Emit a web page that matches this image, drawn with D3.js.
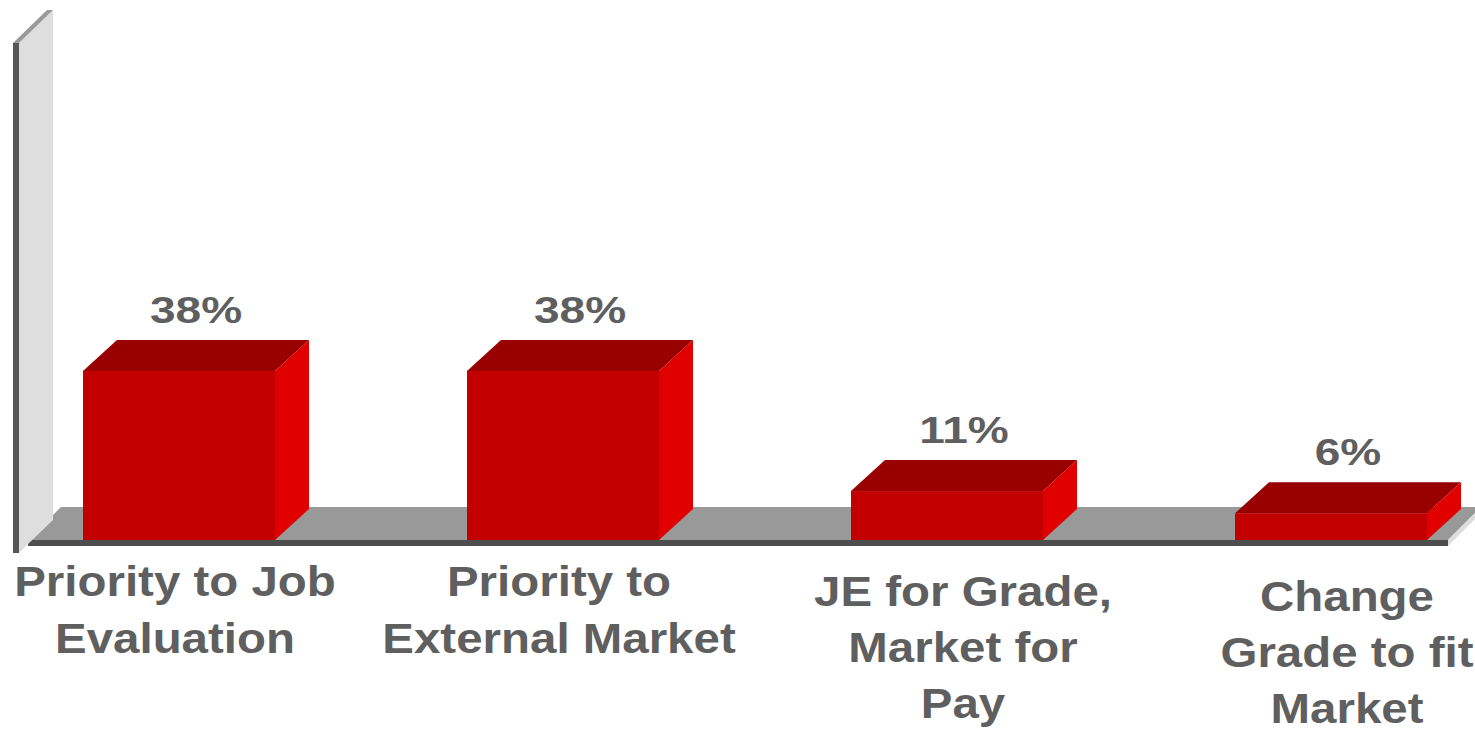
<!DOCTYPE html>
<html>
<head>
<meta charset="utf-8">
<script src="https://cdn.jsdelivr.net/npm/d3@7"></script>
<style>
  html, body { margin: 0; padding: 0; background: #ffffff; }
  svg { display: block; }
  text { font-family: "Liberation Sans", Arial, Helvetica, sans-serif; font-weight: bold; fill: #5f5f5f; }
</style>
</head>
<body>
<svg id="chart" width="1475" height="734"></svg>
<script>
// Survey results: approach to reconciling job evaluation and market pricing
const categories = [
  "Priority to Job Evaluation",
  "Priority to External Market",
  "JE for Grade, Market for Pay",
  "Change Grade to fit Market"
];
const categoryLines = [
  ["Priority to Job", "Evaluation"],
  ["Priority to", "External Market"],
  ["JE for Grade,", "Market for", "Pay"],
  ["Change", "Grade to fit", "Market"]
];
const values = [38, 38, 11, 6];
const valueLabels = ["38%", "38%", "11%", "6%"];

const svg = d3.select("#chart");

// Scales
const x = d3.scaleBand()
  .domain(categories)
  .range([-13, 1523])
  .paddingInner(0.5)
  .paddingOuter(0.25);

const baseY = 540;
const y = d3.scaleLinear().domain([0, 100]).range([baseY, baseY - 445]);

// Oblique depth offsets
const dx = 34, dy = 31;        // bars
const fdx = 33, fdy = 33;      // floor
const slab = 6;                // floor thickness

const poly = pts => pts.map(p => p.join(",")).join(" ");

// Floor slab
const floorL = 28, floorR = 1448;
svg.append("polygon")
  .attr("points", poly([[floorL, baseY], [floorL + fdx, baseY - fdy], [floorR + fdx, baseY - fdy], [floorR, baseY]]))
  .attr("fill", "#999999");
svg.append("polygon")
  .attr("points", poly([[floorR, baseY], [floorR + fdx, baseY - fdy], [floorR + fdx, baseY - fdy + slab], [floorR, baseY + slab]]))
  .attr("fill", "#dcdcdc");
svg.append("rect")
  .attr("x", floorL).attr("y", baseY)
  .attr("width", floorR - floorL).attr("height", slab)
  .attr("fill", "#4d4d4d");

// Side wall
const wallX = 19, wallTop = 43, wallBottom = 553;
svg.append("polygon")
  .attr("points", poly([
    [wallX, wallTop], [wallX + dx, wallTop - dy - 2], [wallX + dx, 520],
    [floorL, baseY + 4], [wallX, wallBottom]
  ]))
  .attr("fill", "#dedede");
svg.append("polygon")
  .attr("points", poly([[wallX - 6, wallTop], [wallX, wallTop], [wallX + dx, wallTop - dy - 2], [wallX + dx - 6, wallTop - dy - 2]]))
  .attr("fill", "#9a9a9a");
svg.append("rect")
  .attr("x", wallX - 6).attr("y", wallTop)
  .attr("width", 6).attr("height", wallBottom - wallTop)
  .attr("fill", "#565656");

// Bars
const bw = x.bandwidth();
const data = categories.map((c, i) => ({ c, i, v: values[i], label: valueLabels[i], lines: categoryLines[i] }));

const bars = svg.selectAll("g.bar").data(data).join("g").attr("class", "bar");

bars.append("polygon") // top face
  .attr("points", d => {
    const x0 = x(d.c), yt = y(d.v);
    return poly([[x0, yt], [x0 + dx, yt - dy], [x0 + bw + dx, yt - dy], [x0 + bw, yt]]);
  })
  .attr("fill", "#990000");

bars.append("polygon") // right side face
  .attr("points", d => {
    const x1 = x(d.c) + bw, yt = y(d.v);
    return poly([[x1, yt], [x1 + dx, yt - dy], [x1 + dx, baseY - dy], [x1, baseY]]);
  })
  .attr("fill", "#e00000");

bars.append("rect") // front face
  .attr("x", d => x(d.c))
  .attr("y", d => y(d.v))
  .attr("width", bw)
  .attr("height", d => baseY - y(d.v))
  .attr("fill", "#c20000");

// Value labels above each bar (wide bold face)
bars.append("text")
  .attr("transform", d => `translate(${x(d.c) + (bw + dx) / 2},${y(d.v) - dy - 17}) scale(1.28,1)`)
  .attr("text-anchor", "middle")
  .attr("font-size", 36)
  .text(d => d.label);

// Category labels
const cat = svg.selectAll("g.cat").data(data).join("g")
  .attr("class", "cat")
  .attr("transform", d => {
    const cx = x(d.c) + bw / 2 + (d.lines.length > 2 ? 16 : -4);
    const y0 = d.i < 2 ? 596 : (d.i === 2 ? 606 : 611);
    return `translate(${cx},${y0}) scale(1.13,1)`;
  });

cat.each(function(d) {
  const t = d3.select(this).append("text")
    .attr("text-anchor", "middle")
    .attr("font-size", 42);
  const lh = d.lines.length > 2 ? 56 : 57;
  d.lines.forEach((ln, j) => {
    t.append("tspan")
      .attr("x", 0)
      .attr("y", j * lh)
      .text(ln);
  });
});
</script>
</body>
</html>
